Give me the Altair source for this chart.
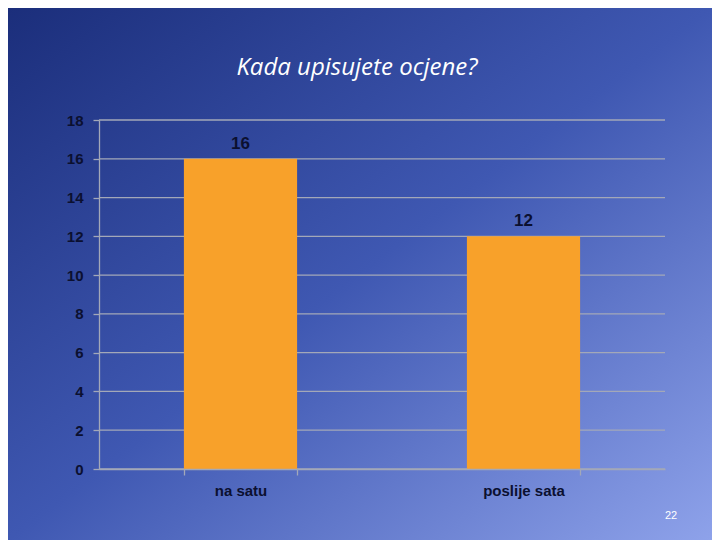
import altair as alt
import pandas as pd

# ---- data ----
categories = ["na satu", "poslije sata"]
counts = [16, 12]
y_ticks = [0, 2, 4, 6, 8, 10, 12, 14, 16, 18]
title_text = ["Kada upisujete ocjene?"]
slide_number = ["22"]

df = pd.DataFrame({"kategorija": categories, "broj": counts})
grid_df = pd.DataFrame({"broj": y_ticks})
bg_df = pd.DataFrame({"k": [0]})
slide_df = pd.DataFrame({"s": slide_number})
title_df = pd.DataFrame({"t": title_text})

W, H = 566, 349
PAD = {"left": 91, "top": 112, "right": 47, "bottom": 71}
LABEL_FONT = "Liberation Sans"
DARK = "#0b1030"
GRID = "#a3a8b8"

y_enc = alt.Y(
    "broj:Q",
    scale=alt.Scale(domain=[0, 18], nice=False),
    axis=alt.Axis(
        values=y_ticks, grid=False, title=None, domainColor=GRID, domainWidth=1.3,
        tickColor=GRID, tickSize=6, tickWidth=1.3, labelFont=LABEL_FONT,
        labelFontSize=15, labelFontWeight="bold", labelColor=DARK, labelPadding=10,
        zindex=1,
    ),
)
x_enc = alt.X(
    "kategorija:N",
    sort=categories,
    scale=alt.Scale(paddingInner=0.6, paddingOuter=0.3),
    axis=alt.Axis(
        title=None, labelAngle=0, tickBand="extent", domainColor=GRID, domainWidth=1.3,
        tickColor=GRID, tickSize=6, tickWidth=1.3, labelFont=LABEL_FONT,
        labelFontSize=15, labelFontWeight="bold", labelColor=DARK, labelPadding=8,
        zindex=1,
    ),
)

bg = alt.Chart(bg_df).mark_rect(
    fill=alt.Gradient(
        gradient="linear", x1=0, y1=0, x2=1, y2=1,
        stops=[
            alt.GradientStop(color="#1b2e7b", offset=0),
            alt.GradientStop(color="#3f58b2", offset=0.5),
            alt.GradientStop(color="#8ea2ea", offset=1),
        ],
    ),
    clip=False,
).encode(
    x=alt.value(-PAD["left"]), x2=alt.value(W + PAD["right"]),
    y=alt.value(-PAD["top"]), y2=alt.value(H + PAD["bottom"]),
)

grid = alt.Chart(grid_df).mark_rule(color=GRID, strokeWidth=1.3).encode(y=y_enc)

bars = alt.Chart(df).mark_bar(color="#F8A12A").encode(x=x_enc, y=y_enc)

labels = alt.Chart(df).mark_text(
    dy=-10, baseline="alphabetic", font=LABEL_FONT, fontSize=17,
    fontWeight="bold", color=DARK,
).encode(x=x_enc, y=y_enc, text="broj:Q")

title = alt.Chart(title_df).mark_text(
    font="Open Sans", fontStyle="italic", fontSize=24, color="white",
    align="center", baseline="alphabetic",
).encode(x=alt.value(258), y=alt.value(-45), text="t:N")

slide = alt.Chart(slide_df).mark_text(
    font="Liberation Sans", fontSize=11, color="white", align="center",
    baseline="alphabetic",
).encode(x=alt.value(572), y=alt.value(399), text="s:N")

chart = alt.layer(bg, grid, bars, labels, title, slide).properties(
    width=W,
    height=H,
    padding=PAD,
    autosize=alt.AutoSizeParams(type="none"),
).configure_view(stroke=None)

chart.save("out.html", embed_options={"renderer": "svg", "actions": False})
